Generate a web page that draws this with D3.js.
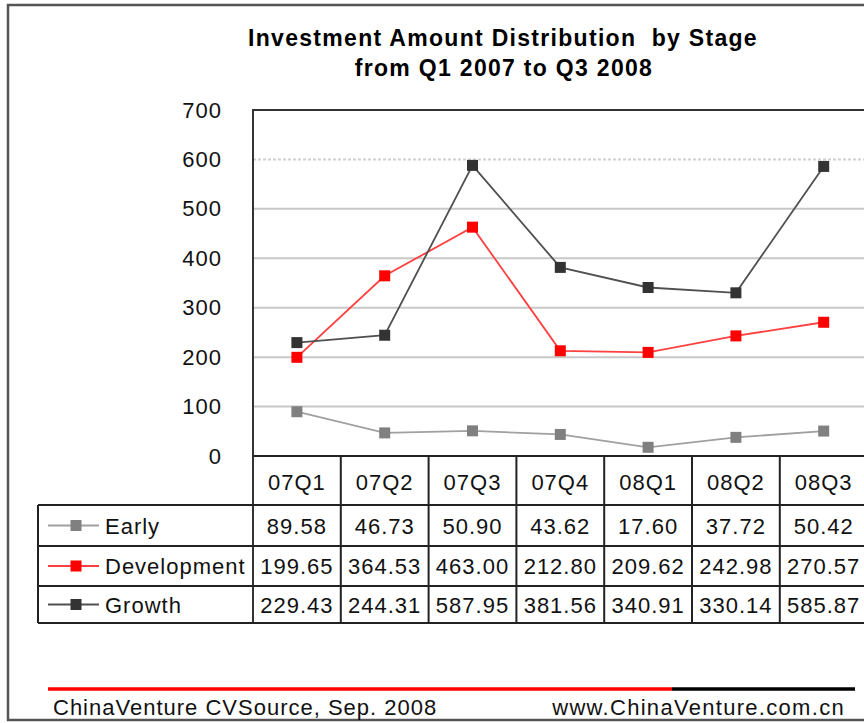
<!DOCTYPE html>
<html>
<head>
<meta charset="utf-8">
<script src="https://cdn.jsdelivr.net/npm/d3@7"></script>
<style>
  body { margin: 0; background: #fff; }
  svg { display: block; font-family: "Liberation Sans", Arial, sans-serif; }
  text { white-space: pre; }
</style>
</head>
<body>
<div id="chart"></div>
<script>
// Données
const trimestres = ["07Q1", "07Q2", "07Q3", "07Q4", "08Q1", "08Q2", "08Q3"];
const early = [89.58, 46.73, 50.90, 43.62, 17.60, 37.72, 50.42];
const development = [199.65, 364.53, 463.00, 212.80, 209.62, 242.98, 270.57];
const growth = [229.43, 244.31, 587.95, 381.56, 340.91, 330.14, 585.87];
const nomsSeries = ["Early", "Development", "Growth"];
const ticksY = [0, 100, 200, 300, 400, 500, 600, 700];

const series = [
  {nom: nomsSeries[0], valeurs: early, ligne: "#a0a0a0", point: "#808080"},
  {nom: nomsSeries[1], valeurs: development, ligne: "#ff4040", point: "#ff0000"},
  {nom: nomsSeries[2], valeurs: growth, ligne: "#505050", point: "#333333"}
];

const largeur = 864, hauteur = 723;
const gauche = 253, haut = 110, bas = 456;
const largeurCol = 87.8;
const lignesTable = [456, 505, 546, 586, 623]; // bords des lignes du tableau
const droite = gauche + largeurCol * trimestres.length;

const svg = d3.select("#chart").append("svg")
  .attr("width", largeur)
  .attr("height", hauteur);

// Cadre extérieur
svg.append("path")
  .attr("d", `M${largeur + 5},5 H8 V720 H${largeur + 5}`)
  .attr("fill", "none")
  .attr("stroke", "#555")
  .attr("stroke-width", 2.5);

// Titre
svg.append("text")
  .attr("x", 503).attr("y", 46)
  .attr("text-anchor", "middle")
  .attr("font-size", 23).attr("font-weight", "bold")
  .attr("letter-spacing", 1.3)
  .text("Investment Amount Distribution  by Stage");
svg.append("text")
  .attr("x", 504).attr("y", 76)
  .attr("text-anchor", "middle")
  .attr("font-size", 23).attr("font-weight", "bold")
  .attr("letter-spacing", 1.3)
  .text("from Q1 2007 to Q3 2008");

// Echelles
const x = d3.scaleBand().domain(trimestres).range([gauche, droite]);
const y = d3.scaleLinear().domain([0, 700]).range([bas, haut]);

// Grille
svg.append("g")
  .selectAll("line")
  .data(ticksY.filter(t => t > 0 && t < 700))
  .enter()
  .append("line")
  .attr("x1", gauche).attr("x2", droite)
  .attr("y1", d => y(d)).attr("y2", d => y(d))
  .attr("stroke", d => d === 600 ? "#d0d0d0" : "#c8c8c8")
  .attr("stroke-width", 2)
  .attr("stroke-dasharray", d => d === 600 ? "3,2" : null);

// Axe Y
const axeY = svg.append("g")
  .attr("transform", `translate(${gauche},0)`)
  .call(d3.axisLeft(y).tickValues(ticksY).tickSize(0).tickPadding(31));
axeY.select(".domain").remove();
axeY.selectAll("text")
  .attr("font-size", 22)
  .attr("letter-spacing", 1)
  .attr("fill", "#111")
  .style("font-family", "'Liberation Sans', Arial, sans-serif");

// Bordure du graphique
svg.append("path")
  .attr("d", `M${gauche},${lignesTable[lignesTable.length - 1]} V${haut} H${droite + 10}`)
  .attr("fill", "none")
  .attr("stroke", "#333")
  .attr("stroke-width", 2);

// Tableau : lignes horizontales
svg.append("g")
  .selectAll("line")
  .data(lignesTable)
  .enter()
  .append("line")
  .attr("x1", (d, i) => i === 0 ? gauche : 38)
  .attr("x2", droite + 10)
  .attr("y1", d => d).attr("y2", d => d)
  .attr("stroke", "#222")
  .attr("stroke-width", 2);

// Tableau : lignes verticales
svg.append("g")
  .selectAll("line")
  .data(trimestres)
  .enter()
  .append("line")
  .attr("x1", d => x(d) + x.bandwidth()).attr("x2", d => x(d) + x.bandwidth())
  .attr("y1", lignesTable[0]).attr("y2", lignesTable[lignesTable.length - 1])
  .attr("stroke", "#222")
  .attr("stroke-width", 2);
svg.append("line")
  .attr("x1", 38).attr("x2", 38)
  .attr("y1", lignesTable[1]).attr("y2", lignesTable[lignesTable.length - 1])
  .attr("stroke", "#222")
  .attr("stroke-width", 2);

// En-têtes des trimestres
svg.append("g")
  .selectAll("text")
  .data(trimestres)
  .enter()
  .append("text")
  .attr("x", d => x(d) + x.bandwidth() / 2)
  .attr("y", (lignesTable[0] + lignesTable[1]) / 2 + 9)
  .attr("text-anchor", "middle")
  .attr("font-size", 22)
  .attr("letter-spacing", 1)
  .attr("fill", "#111")
  .text(d => d);

// Lignes des séries
const ligne = d3.line()
  .x((d, i) => x(trimestres[i]) + x.bandwidth() / 2)
  .y(d => y(d));

series.forEach((s, k) => {
  svg.append("path")
    .datum(s.valeurs)
    .attr("d", ligne)
    .attr("fill", "none")
    .attr("stroke", s.ligne)
    .attr("stroke-width", 1.8);

  svg.append("g")
    .selectAll("rect")
    .data(s.valeurs)
    .enter()
    .append("rect")
    .attr("x", (d, i) => x(trimestres[i]) + x.bandwidth() / 2 - 5.5)
    .attr("y", d => y(d) - 5.5)
    .attr("width", 11).attr("height", 11)
    .attr("fill", s.point);

  // Ligne du tableau
  const yc = (lignesTable[k + 1] + lignesTable[k + 2]) / 2;
  svg.append("line")
    .attr("x1", 48).attr("x2", 99)
    .attr("y1", yc).attr("y2", yc)
    .attr("stroke", s.ligne)
    .attr("stroke-width", 1.8);
  svg.append("rect")
    .attr("x", 76 - 5.5).attr("y", yc - 5.5)
    .attr("width", 11).attr("height", 11)
    .attr("fill", s.point);
  svg.append("text")
    .attr("x", 105).attr("y", yc + 8)
    .attr("font-size", 22)
    .attr("letter-spacing", 1)
    .attr("fill", "#111")
    .text(s.nom);

  svg.append("g")
    .selectAll("text")
    .data(s.valeurs)
    .enter()
    .append("text")
    .attr("x", (d, i) => x(trimestres[i]) + x.bandwidth() / 2)
    .attr("y", yc + 8)
    .attr("text-anchor", "middle")
    .attr("font-size", 22)
    .attr("letter-spacing", 1)
    .attr("fill", "#111")
    .text(d => d.toFixed(2));
});

// Pied de page
svg.append("line")
  .attr("x1", 48).attr("x2", 672).attr("y1", 689).attr("y2", 689)
  .attr("stroke", "#ff0000").attr("stroke-width", 3.5);
svg.append("line")
  .attr("x1", 672).attr("x2", 855).attr("y1", 689).attr("y2", 689)
  .attr("stroke", "#000").attr("stroke-width", 3.5);
svg.append("text")
  .attr("x", 53).attr("y", 715)
  .attr("font-size", 22)
  .attr("letter-spacing", 1)
  .attr("fill", "#111")
  .text("ChinaVenture CVSource, Sep. 2008");
svg.append("text")
  .attr("x", 845).attr("y", 715)
  .attr("text-anchor", "end")
  .attr("font-size", 22)
  .attr("letter-spacing", 1.3)
  .attr("fill", "#111")
  .text("www.ChinaVenture.com.cn");
</script>
</body>
</html>
